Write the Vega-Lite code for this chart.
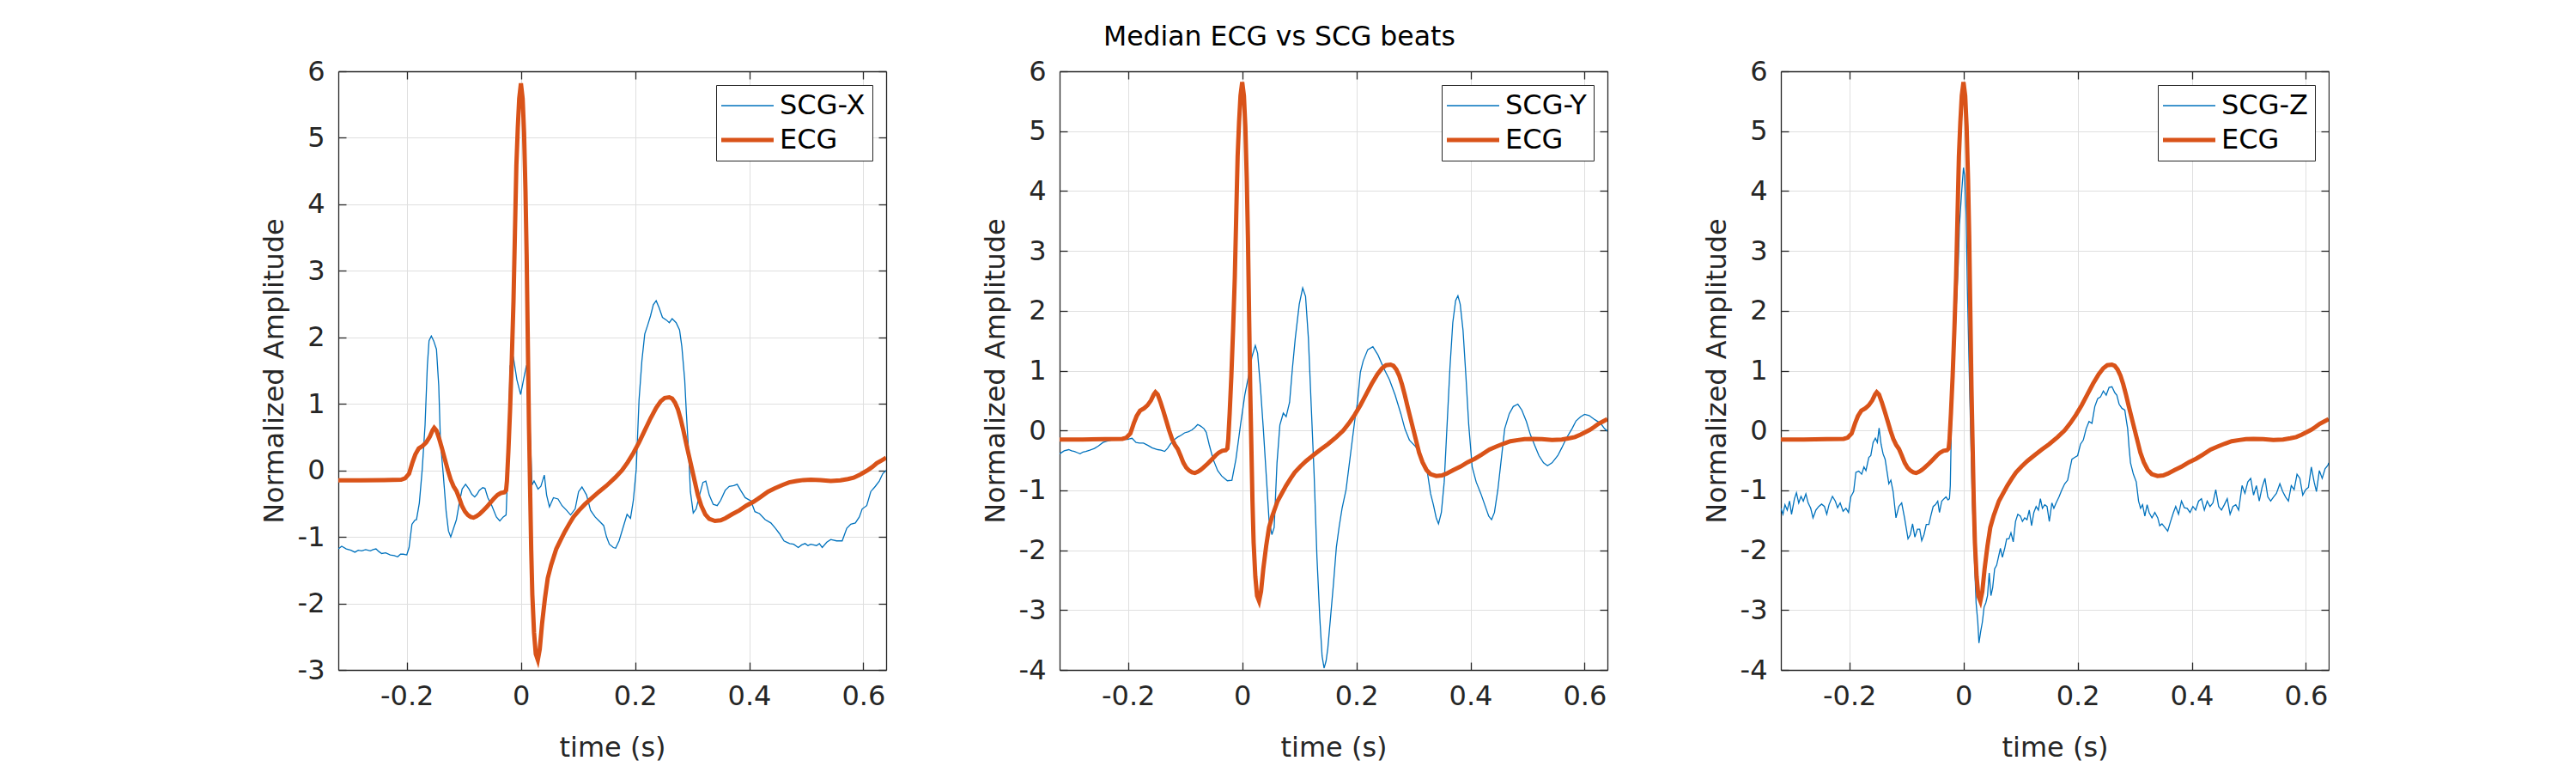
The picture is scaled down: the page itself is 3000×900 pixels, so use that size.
{
  "$schema": "https://vega.github.io/schema/vega-lite/v6.json",
  "background": "white",
  "padding": {"left": 303, "top": 27, "right": 0, "bottom": 0},
  "title": {"text": "Median ECG vs SCG beats", "fontSize": 31.5, "font": "DejaVu Sans", "fontWeight": "normal", "color": "black", "anchor": "middle", "offset": 8, "dx": -18},
  "spacing": 110,
  "resolve": {"scale": {"color": "independent", "strokeWidth": "independent", "x": "independent", "y": "independent"}},
  "config": {
    "view": {"stroke": null},
    "font": "DejaVu Sans",
    "axis": {"labelFont": "DejaVu Sans", "labelFontSize": 32, "labelColor": "#262626", "titleFont": "DejaVu Sans", "titleFontSize": 32, "titleColor": "#262626", "titleFontWeight": "normal", "domainColor": "#262626", "domainWidth": 1.3, "tickColor": "#262626", "tickWidth": 1.3, "gridColor": "#dfdfdf", "gridWidth": 1, "labelExpr": "replace(datum.label, '−', '-')"},
    "legend": {"orient": "top-right", "offset": 16, "strokeColor": "#262626", "fillColor": "white", "padding": 8, "labelFont": "DejaVu Sans", "labelFontSize": 32, "labelColor": "black", "symbolType": "M-1.8,0H4.3", "symbolSize": 400, "labelOffset": 34, "rowPadding": 8}
  },
  "datasets": {
    "ecg": [
      {"t":-0.32,"v":-0.15,"s":"ECG"},{"t":-0.28,"v":-0.15,"s":"ECG"},{"t":-0.24,"v":-0.145,"s":"ECG"},{"t":-0.21,"v":-0.14,"s":"ECG"},{"t":-0.203,"v":-0.12,"s":"ECG"},{"t":-0.196,"v":-0.05,"s":"ECG"},{"t":-0.19,"v":0.12,"s":"ECG"},{"t":-0.185,"v":0.24,"s":"ECG"},{"t":-0.179,"v":0.33,"s":"ECG"},{"t":-0.172,"v":0.37,"s":"ECG"},{"t":-0.166,"v":0.42,"s":"ECG"},{"t":-0.16,"v":0.5,"s":"ECG"},{"t":-0.155,"v":0.6,"s":"ECG"},{"t":-0.152,"v":0.64,"s":"ECG"},{"t":-0.148,"v":0.6,"s":"ECG"},{"t":-0.143,"v":0.47,"s":"ECG"},{"t":-0.138,"v":0.32,"s":"ECG"},{"t":-0.133,"v":0.16,"s":"ECG"},{"t":-0.128,"v":0.0,"s":"ECG"},{"t":-0.123,"v":-0.14,"s":"ECG"},{"t":-0.118,"v":-0.24,"s":"ECG"},{"t":-0.113,"v":-0.31,"s":"ECG"},{"t":-0.108,"v":-0.42,"s":"ECG"},{"t":-0.103,"v":-0.54,"s":"ECG"},{"t":-0.098,"v":-0.62,"s":"ECG"},{"t":-0.093,"v":-0.67,"s":"ECG"},{"t":-0.088,"v":-0.7,"s":"ECG"},{"t":-0.083,"v":-0.71,"s":"ECG"},{"t":-0.078,"v":-0.69,"s":"ECG"},{"t":-0.073,"v":-0.66,"s":"ECG"},{"t":-0.068,"v":-0.62,"s":"ECG"},{"t":-0.06,"v":-0.55,"s":"ECG"},{"t":-0.053,"v":-0.48,"s":"ECG"},{"t":-0.047,"v":-0.42,"s":"ECG"},{"t":-0.041,"v":-0.37,"s":"ECG"},{"t":-0.035,"v":-0.34,"s":"ECG"},{"t":-0.029,"v":-0.33,"s":"ECG"},{"t":-0.026,"v":-0.3,"s":"ECG"},{"t":-0.0245,"v":-0.16,"s":"ECG"},{"t":-0.022,"v":0.28,"s":"ECG"},{"t":-0.019,"v":0.91,"s":"ECG"},{"t":-0.016,"v":1.67,"s":"ECG"},{"t":-0.013,"v":2.55,"s":"ECG"},{"t":-0.0105,"v":3.57,"s":"ECG"},{"t":-0.008,"v":4.58,"s":"ECG"},{"t":-0.0055,"v":5.15,"s":"ECG"},{"t":-0.003,"v":5.59,"s":"ECG"},{"t":0.0,"v":5.82,"s":"ECG"},{"t":0.003,"v":5.59,"s":"ECG"},{"t":0.0055,"v":5.08,"s":"ECG"},{"t":0.008,"v":4.2,"s":"ECG"},{"t":0.01,"v":3.25,"s":"ECG"},{"t":0.012,"v":1.98,"s":"ECG"},{"t":0.014,"v":0.72,"s":"ECG"},{"t":0.016,"v":-0.23,"s":"ECG"},{"t":0.018,"v":-1.18,"s":"ECG"},{"t":0.02,"v":-1.87,"s":"ECG"},{"t":0.023,"v":-2.44,"s":"ECG"},{"t":0.026,"v":-2.76,"s":"ECG"},{"t":0.0296,"v":-2.85,"s":"ECG"},{"t":0.033,"v":-2.69,"s":"ECG"},{"t":0.037,"v":-2.31,"s":"ECG"},{"t":0.042,"v":-1.93,"s":"ECG"},{"t":0.047,"v":-1.62,"s":"ECG"},{"t":0.053,"v":-1.42,"s":"ECG"},{"t":0.062,"v":-1.18,"s":"ECG"},{"t":0.07,"v":-1.04,"s":"ECG"},{"t":0.077,"v":-0.92,"s":"ECG"},{"t":0.085,"v":-0.8,"s":"ECG"},{"t":0.092,"v":-0.7,"s":"ECG"},{"t":0.102,"v":-0.6,"s":"ECG"},{"t":0.112,"v":-0.51,"s":"ECG"},{"t":0.125,"v":-0.41,"s":"ECG"},{"t":0.137,"v":-0.32,"s":"ECG"},{"t":0.15,"v":-0.23,"s":"ECG"},{"t":0.165,"v":-0.11,"s":"ECG"},{"t":0.177,"v":0.0,"s":"ECG"},{"t":0.187,"v":0.12,"s":"ECG"},{"t":0.197,"v":0.26,"s":"ECG"},{"t":0.207,"v":0.42,"s":"ECG"},{"t":0.217,"v":0.6,"s":"ECG"},{"t":0.227,"v":0.78,"s":"ECG"},{"t":0.237,"v":0.94,"s":"ECG"},{"t":0.245,"v":1.04,"s":"ECG"},{"t":0.252,"v":1.09,"s":"ECG"},{"t":0.26,"v":1.1,"s":"ECG"},{"t":0.265,"v":1.08,"s":"ECG"},{"t":0.27,"v":1.02,"s":"ECG"},{"t":0.275,"v":0.92,"s":"ECG"},{"t":0.28,"v":0.77,"s":"ECG"},{"t":0.285,"v":0.59,"s":"ECG"},{"t":0.29,"v":0.39,"s":"ECG"},{"t":0.295,"v":0.2,"s":"ECG"},{"t":0.3,"v":0.01,"s":"ECG"},{"t":0.305,"v":-0.18,"s":"ECG"},{"t":0.31,"v":-0.37,"s":"ECG"},{"t":0.316,"v":-0.53,"s":"ECG"},{"t":0.323,"v":-0.66,"s":"ECG"},{"t":0.33,"v":-0.73,"s":"ECG"},{"t":0.34,"v":-0.76,"s":"ECG"},{"t":0.35,"v":-0.75,"s":"ECG"},{"t":0.358,"v":-0.72,"s":"ECG"},{"t":0.37,"v":-0.66,"s":"ECG"},{"t":0.383,"v":-0.6,"s":"ECG"},{"t":0.395,"v":-0.53,"s":"ECG"},{"t":0.408,"v":-0.47,"s":"ECG"},{"t":0.42,"v":-0.4,"s":"ECG"},{"t":0.433,"v":-0.32,"s":"ECG"},{"t":0.445,"v":-0.27,"s":"ECG"},{"t":0.458,"v":-0.22,"s":"ECG"},{"t":0.47,"v":-0.18,"s":"ECG"},{"t":0.483,"v":-0.16,"s":"ECG"},{"t":0.495,"v":-0.145,"s":"ECG"},{"t":0.508,"v":-0.14,"s":"ECG"},{"t":0.525,"v":-0.145,"s":"ECG"},{"t":0.543,"v":-0.16,"s":"ECG"},{"t":0.56,"v":-0.15,"s":"ECG"},{"t":0.573,"v":-0.13,"s":"ECG"},{"t":0.583,"v":-0.11,"s":"ECG"},{"t":0.593,"v":-0.07,"s":"ECG"},{"t":0.601,"v":-0.03,"s":"ECG"},{"t":0.609,"v":0.01,"s":"ECG"},{"t":0.617,"v":0.06,"s":"ECG"},{"t":0.624,"v":0.11,"s":"ECG"},{"t":0.632,"v":0.15,"s":"ECG"},{"t":0.64,"v":0.19,"s":"ECG"}
    ],
    "scgx": [
      {"t":-0.32,"v":-1.18,"s":"SCG-X"},{"t":-0.314,"v":-1.14,"s":"SCG-X"},{"t":-0.306,"v":-1.18,"s":"SCG-X"},{"t":-0.298,"v":-1.2,"s":"SCG-X"},{"t":-0.291,"v":-1.23,"s":"SCG-X"},{"t":-0.285,"v":-1.2,"s":"SCG-X"},{"t":-0.279,"v":-1.21,"s":"SCG-X"},{"t":-0.272,"v":-1.19,"s":"SCG-X"},{"t":-0.264,"v":-1.21,"s":"SCG-X"},{"t":-0.259,"v":-1.19,"s":"SCG-X"},{"t":-0.254,"v":-1.18,"s":"SCG-X"},{"t":-0.249,"v":-1.22,"s":"SCG-X"},{"t":-0.244,"v":-1.25,"s":"SCG-X"},{"t":-0.237,"v":-1.24,"s":"SCG-X"},{"t":-0.229,"v":-1.27,"s":"SCG-X"},{"t":-0.222,"v":-1.28,"s":"SCG-X"},{"t":-0.216,"v":-1.3,"s":"SCG-X"},{"t":-0.211,"v":-1.26,"s":"SCG-X"},{"t":-0.206,"v":-1.26,"s":"SCG-X"},{"t":-0.2,"v":-1.27,"s":"SCG-X"},{"t":-0.196,"v":-1.16,"s":"SCG-X"},{"t":-0.191,"v":-0.81,"s":"SCG-X"},{"t":-0.186,"v":-0.75,"s":"SCG-X"},{"t":-0.183,"v":-0.74,"s":"SCG-X"},{"t":-0.178,"v":-0.49,"s":"SCG-X"},{"t":-0.173,"v":0.01,"s":"SCG-X"},{"t":-0.168,"v":0.68,"s":"SCG-X"},{"t":-0.164,"v":1.57,"s":"SCG-X"},{"t":-0.161,"v":1.95,"s":"SCG-X"},{"t":-0.157,"v":2.02,"s":"SCG-X"},{"t":-0.153,"v":1.95,"s":"SCG-X"},{"t":-0.148,"v":1.82,"s":"SCG-X"},{"t":-0.144,"v":1.27,"s":"SCG-X"},{"t":-0.141,"v":0.43,"s":"SCG-X"},{"t":-0.136,"v":-0.07,"s":"SCG-X"},{"t":-0.131,"v":-0.62,"s":"SCG-X"},{"t":-0.127,"v":-0.91,"s":"SCG-X"},{"t":-0.123,"v":-1.0,"s":"SCG-X"},{"t":-0.118,"v":-0.87,"s":"SCG-X"},{"t":-0.113,"v":-0.74,"s":"SCG-X"},{"t":-0.108,"v":-0.49,"s":"SCG-X"},{"t":-0.103,"v":-0.28,"s":"SCG-X"},{"t":-0.097,"v":-0.21,"s":"SCG-X"},{"t":-0.091,"v":-0.28,"s":"SCG-X"},{"t":-0.086,"v":-0.36,"s":"SCG-X"},{"t":-0.081,"v":-0.4,"s":"SCG-X"},{"t":-0.077,"v":-0.36,"s":"SCG-X"},{"t":-0.073,"v":-0.3,"s":"SCG-X"},{"t":-0.067,"v":-0.26,"s":"SCG-X"},{"t":-0.063,"v":-0.27,"s":"SCG-X"},{"t":-0.058,"v":-0.41,"s":"SCG-X"},{"t":-0.051,"v":-0.53,"s":"SCG-X"},{"t":-0.043,"v":-0.7,"s":"SCG-X"},{"t":-0.037,"v":-0.76,"s":"SCG-X"},{"t":-0.031,"v":-0.7,"s":"SCG-X"},{"t":-0.026,"v":-0.67,"s":"SCG-X"},{"t":-0.023,"v":0.01,"s":"SCG-X"},{"t":-0.019,"v":1.57,"s":"SCG-X"},{"t":-0.013,"v":1.69,"s":"SCG-X"},{"t":-0.007,"v":1.36,"s":"SCG-X"},{"t":-0.0005,"v":1.14,"s":"SCG-X"},{"t":0.0045,"v":1.36,"s":"SCG-X"},{"t":0.0095,"v":1.57,"s":"SCG-X"},{"t":0.012,"v":1.6,"s":"SCG-X"},{"t":0.016,"v":0.6,"s":"SCG-X"},{"t":0.0195,"v":-0.22,"s":"SCG-X"},{"t":0.023,"v":-0.16,"s":"SCG-X"},{"t":0.03,"v":-0.28,"s":"SCG-X"},{"t":0.035,"v":-0.24,"s":"SCG-X"},{"t":0.041,"v":-0.07,"s":"SCG-X"},{"t":0.045,"v":-0.37,"s":"SCG-X"},{"t":0.05,"v":-0.55,"s":"SCG-X"},{"t":0.057,"v":-0.41,"s":"SCG-X"},{"t":0.065,"v":-0.43,"s":"SCG-X"},{"t":0.072,"v":-0.53,"s":"SCG-X"},{"t":0.08,"v":-0.6,"s":"SCG-X"},{"t":0.087,"v":-0.67,"s":"SCG-X"},{"t":0.095,"v":-0.58,"s":"SCG-X"},{"t":0.101,"v":-0.32,"s":"SCG-X"},{"t":0.107,"v":-0.25,"s":"SCG-X"},{"t":0.115,"v":-0.37,"s":"SCG-X"},{"t":0.122,"v":-0.6,"s":"SCG-X"},{"t":0.13,"v":-0.7,"s":"SCG-X"},{"t":0.137,"v":-0.76,"s":"SCG-X"},{"t":0.145,"v":-0.83,"s":"SCG-X"},{"t":0.15,"v":-1.0,"s":"SCG-X"},{"t":0.155,"v":-1.11,"s":"SCG-X"},{"t":0.162,"v":-1.16,"s":"SCG-X"},{"t":0.166,"v":-1.17,"s":"SCG-X"},{"t":0.172,"v":-1.06,"s":"SCG-X"},{"t":0.18,"v":-0.83,"s":"SCG-X"},{"t":0.186,"v":-0.66,"s":"SCG-X"},{"t":0.192,"v":-0.72,"s":"SCG-X"},{"t":0.197,"v":-0.45,"s":"SCG-X"},{"t":0.202,"v":0.01,"s":"SCG-X"},{"t":0.207,"v":1.06,"s":"SCG-X"},{"t":0.212,"v":1.65,"s":"SCG-X"},{"t":0.217,"v":2.05,"s":"SCG-X"},{"t":0.222,"v":2.18,"s":"SCG-X"},{"t":0.227,"v":2.32,"s":"SCG-X"},{"t":0.232,"v":2.49,"s":"SCG-X"},{"t":0.237,"v":2.55,"s":"SCG-X"},{"t":0.242,"v":2.45,"s":"SCG-X"},{"t":0.248,"v":2.3,"s":"SCG-X"},{"t":0.255,"v":2.26,"s":"SCG-X"},{"t":0.26,"v":2.22,"s":"SCG-X"},{"t":0.265,"v":2.28,"s":"SCG-X"},{"t":0.272,"v":2.22,"s":"SCG-X"},{"t":0.278,"v":2.11,"s":"SCG-X"},{"t":0.282,"v":1.86,"s":"SCG-X"},{"t":0.287,"v":1.36,"s":"SCG-X"},{"t":0.29,"v":0.85,"s":"SCG-X"},{"t":0.294,"v":0.26,"s":"SCG-X"},{"t":0.297,"v":-0.32,"s":"SCG-X"},{"t":0.302,"v":-0.64,"s":"SCG-X"},{"t":0.307,"v":-0.58,"s":"SCG-X"},{"t":0.313,"v":-0.37,"s":"SCG-X"},{"t":0.319,"v":-0.18,"s":"SCG-X"},{"t":0.324,"v":-0.16,"s":"SCG-X"},{"t":0.33,"v":-0.37,"s":"SCG-X"},{"t":0.337,"v":-0.51,"s":"SCG-X"},{"t":0.344,"v":-0.53,"s":"SCG-X"},{"t":0.35,"v":-0.45,"s":"SCG-X"},{"t":0.358,"v":-0.3,"s":"SCG-X"},{"t":0.365,"v":-0.24,"s":"SCG-X"},{"t":0.373,"v":-0.23,"s":"SCG-X"},{"t":0.379,"v":-0.21,"s":"SCG-X"},{"t":0.385,"v":-0.3,"s":"SCG-X"},{"t":0.393,"v":-0.41,"s":"SCG-X"},{"t":0.403,"v":-0.46,"s":"SCG-X"},{"t":0.41,"v":-0.62,"s":"SCG-X"},{"t":0.418,"v":-0.65,"s":"SCG-X"},{"t":0.428,"v":-0.74,"s":"SCG-X"},{"t":0.438,"v":-0.79,"s":"SCG-X"},{"t":0.446,"v":-0.87,"s":"SCG-X"},{"t":0.453,"v":-0.95,"s":"SCG-X"},{"t":0.461,"v":-1.06,"s":"SCG-X"},{"t":0.466,"v":-1.08,"s":"SCG-X"},{"t":0.471,"v":-1.1,"s":"SCG-X"},{"t":0.478,"v":-1.11,"s":"SCG-X"},{"t":0.486,"v":-1.16,"s":"SCG-X"},{"t":0.492,"v":-1.12,"s":"SCG-X"},{"t":0.498,"v":-1.1,"s":"SCG-X"},{"t":0.503,"v":-1.13,"s":"SCG-X"},{"t":0.508,"v":-1.11,"s":"SCG-X"},{"t":0.518,"v":-1.13,"s":"SCG-X"},{"t":0.523,"v":-1.1,"s":"SCG-X"},{"t":0.528,"v":-1.16,"s":"SCG-X"},{"t":0.536,"v":-1.08,"s":"SCG-X"},{"t":0.543,"v":-1.04,"s":"SCG-X"},{"t":0.553,"v":-1.06,"s":"SCG-X"},{"t":0.563,"v":-1.06,"s":"SCG-X"},{"t":0.571,"v":-0.87,"s":"SCG-X"},{"t":0.578,"v":-0.81,"s":"SCG-X"},{"t":0.586,"v":-0.79,"s":"SCG-X"},{"t":0.593,"v":-0.7,"s":"SCG-X"},{"t":0.598,"v":-0.58,"s":"SCG-X"},{"t":0.606,"v":-0.53,"s":"SCG-X"},{"t":0.613,"v":-0.32,"s":"SCG-X"},{"t":0.621,"v":-0.24,"s":"SCG-X"},{"t":0.628,"v":-0.16,"s":"SCG-X"},{"t":0.634,"v":-0.05,"s":"SCG-X"},{"t":0.64,"v":0.0,"s":"SCG-X"}
    ],
    "scgy": [
      {"t":-0.32,"v":-0.39,"s":"SCG-Y"},{"t":-0.312,"v":-0.34,"s":"SCG-Y"},{"t":-0.304,"v":-0.32,"s":"SCG-Y"},{"t":-0.299,"v":-0.34,"s":"SCG-Y"},{"t":-0.294,"v":-0.35,"s":"SCG-Y"},{"t":-0.289,"v":-0.37,"s":"SCG-Y"},{"t":-0.284,"v":-0.39,"s":"SCG-Y"},{"t":-0.279,"v":-0.36,"s":"SCG-Y"},{"t":-0.274,"v":-0.35,"s":"SCG-Y"},{"t":-0.267,"v":-0.33,"s":"SCG-Y"},{"t":-0.259,"v":-0.3,"s":"SCG-Y"},{"t":-0.252,"v":-0.26,"s":"SCG-Y"},{"t":-0.244,"v":-0.2,"s":"SCG-Y"},{"t":-0.237,"v":-0.18,"s":"SCG-Y"},{"t":-0.229,"v":-0.16,"s":"SCG-Y"},{"t":-0.222,"v":-0.16,"s":"SCG-Y"},{"t":-0.214,"v":-0.15,"s":"SCG-Y"},{"t":-0.207,"v":-0.15,"s":"SCG-Y"},{"t":-0.201,"v":-0.15,"s":"SCG-Y"},{"t":-0.197,"v":-0.14,"s":"SCG-Y"},{"t":-0.193,"v":-0.13,"s":"SCG-Y"},{"t":-0.186,"v":-0.2,"s":"SCG-Y"},{"t":-0.18,"v":-0.21,"s":"SCG-Y"},{"t":-0.173,"v":-0.21,"s":"SCG-Y"},{"t":-0.165,"v":-0.25,"s":"SCG-Y"},{"t":-0.158,"v":-0.29,"s":"SCG-Y"},{"t":-0.148,"v":-0.32,"s":"SCG-Y"},{"t":-0.142,"v":-0.33,"s":"SCG-Y"},{"t":-0.136,"v":-0.35,"s":"SCG-Y"},{"t":-0.131,"v":-0.3,"s":"SCG-Y"},{"t":-0.126,"v":-0.23,"s":"SCG-Y"},{"t":-0.12,"v":-0.16,"s":"SCG-Y"},{"t":-0.113,"v":-0.11,"s":"SCG-Y"},{"t":-0.107,"v":-0.08,"s":"SCG-Y"},{"t":-0.101,"v":-0.04,"s":"SCG-Y"},{"t":-0.094,"v":-0.02,"s":"SCG-Y"},{"t":-0.088,"v":0.01,"s":"SCG-Y"},{"t":-0.083,"v":0.05,"s":"SCG-Y"},{"t":-0.078,"v":0.1,"s":"SCG-Y"},{"t":-0.074,"v":0.08,"s":"SCG-Y"},{"t":-0.071,"v":0.06,"s":"SCG-Y"},{"t":-0.067,"v":0.03,"s":"SCG-Y"},{"t":-0.063,"v":-0.03,"s":"SCG-Y"},{"t":-0.058,"v":-0.23,"s":"SCG-Y"},{"t":-0.051,"v":-0.48,"s":"SCG-Y"},{"t":-0.043,"v":-0.67,"s":"SCG-Y"},{"t":-0.036,"v":-0.76,"s":"SCG-Y"},{"t":-0.031,"v":-0.8,"s":"SCG-Y"},{"t":-0.026,"v":-0.84,"s":"SCG-Y"},{"t":-0.018,"v":-0.83,"s":"SCG-Y"},{"t":-0.011,"v":-0.48,"s":"SCG-Y"},{"t":-0.003,"v":0.09,"s":"SCG-Y"},{"t":0.0045,"v":0.59,"s":"SCG-Y"},{"t":0.012,"v":0.95,"s":"SCG-Y"},{"t":0.017,"v":1.23,"s":"SCG-Y"},{"t":0.023,"v":1.42,"s":"SCG-Y"},{"t":0.027,"v":1.29,"s":"SCG-Y"},{"t":0.032,"v":0.72,"s":"SCG-Y"},{"t":0.037,"v":0.03,"s":"SCG-Y"},{"t":0.042,"v":-0.73,"s":"SCG-Y"},{"t":0.047,"v":-1.49,"s":"SCG-Y"},{"t":0.052,"v":-1.74,"s":"SCG-Y"},{"t":0.056,"v":-1.62,"s":"SCG-Y"},{"t":0.061,"v":-0.54,"s":"SCG-Y"},{"t":0.066,"v":0.09,"s":"SCG-Y"},{"t":0.072,"v":0.29,"s":"SCG-Y"},{"t":0.077,"v":0.23,"s":"SCG-Y"},{"t":0.083,"v":0.47,"s":"SCG-Y"},{"t":0.088,"v":1.04,"s":"SCG-Y"},{"t":0.093,"v":1.54,"s":"SCG-Y"},{"t":0.1,"v":2.11,"s":"SCG-Y"},{"t":0.106,"v":2.38,"s":"SCG-Y"},{"t":0.111,"v":2.24,"s":"SCG-Y"},{"t":0.116,"v":1.54,"s":"SCG-Y"},{"t":0.121,"v":0.4,"s":"SCG-Y"},{"t":0.126,"v":-0.73,"s":"SCG-Y"},{"t":0.131,"v":-2.12,"s":"SCG-Y"},{"t":0.136,"v":-3.14,"s":"SCG-Y"},{"t":0.14,"v":-3.77,"s":"SCG-Y"},{"t":0.1435,"v":-3.97,"s":"SCG-Y"},{"t":0.147,"v":-3.85,"s":"SCG-Y"},{"t":0.15,"v":-3.64,"s":"SCG-Y"},{"t":0.155,"v":-3.1,"s":"SCG-Y"},{"t":0.16,"v":-2.55,"s":"SCG-Y"},{"t":0.165,"v":-1.95,"s":"SCG-Y"},{"t":0.17,"v":-1.6,"s":"SCG-Y"},{"t":0.175,"v":-1.3,"s":"SCG-Y"},{"t":0.182,"v":-0.99,"s":"SCG-Y"},{"t":0.187,"v":-0.61,"s":"SCG-Y"},{"t":0.192,"v":-0.23,"s":"SCG-Y"},{"t":0.197,"v":0.15,"s":"SCG-Y"},{"t":0.202,"v":0.47,"s":"SCG-Y"},{"t":0.207,"v":0.97,"s":"SCG-Y"},{"t":0.212,"v":1.16,"s":"SCG-Y"},{"t":0.22,"v":1.35,"s":"SCG-Y"},{"t":0.229,"v":1.4,"s":"SCG-Y"},{"t":0.238,"v":1.26,"s":"SCG-Y"},{"t":0.248,"v":1.04,"s":"SCG-Y"},{"t":0.258,"v":0.85,"s":"SCG-Y"},{"t":0.268,"v":0.59,"s":"SCG-Y"},{"t":0.278,"v":0.28,"s":"SCG-Y"},{"t":0.285,"v":0.03,"s":"SCG-Y"},{"t":0.293,"v":-0.16,"s":"SCG-Y"},{"t":0.303,"v":-0.26,"s":"SCG-Y"},{"t":0.31,"v":-0.35,"s":"SCG-Y"},{"t":0.318,"v":-0.54,"s":"SCG-Y"},{"t":0.325,"v":-0.73,"s":"SCG-Y"},{"t":0.33,"v":-1.05,"s":"SCG-Y"},{"t":0.335,"v":-1.24,"s":"SCG-Y"},{"t":0.34,"v":-1.46,"s":"SCG-Y"},{"t":0.344,"v":-1.56,"s":"SCG-Y"},{"t":0.349,"v":-1.37,"s":"SCG-Y"},{"t":0.354,"v":-0.86,"s":"SCG-Y"},{"t":0.359,"v":0.09,"s":"SCG-Y"},{"t":0.364,"v":1.04,"s":"SCG-Y"},{"t":0.369,"v":1.8,"s":"SCG-Y"},{"t":0.374,"v":2.17,"s":"SCG-Y"},{"t":0.378,"v":2.25,"s":"SCG-Y"},{"t":0.382,"v":2.11,"s":"SCG-Y"},{"t":0.387,"v":1.67,"s":"SCG-Y"},{"t":0.392,"v":0.91,"s":"SCG-Y"},{"t":0.397,"v":0.09,"s":"SCG-Y"},{"t":0.403,"v":-0.61,"s":"SCG-Y"},{"t":0.41,"v":-0.86,"s":"SCG-Y"},{"t":0.418,"v":-1.05,"s":"SCG-Y"},{"t":0.425,"v":-1.24,"s":"SCG-Y"},{"t":0.432,"v":-1.43,"s":"SCG-Y"},{"t":0.437,"v":-1.49,"s":"SCG-Y"},{"t":0.442,"v":-1.37,"s":"SCG-Y"},{"t":0.448,"v":-0.99,"s":"SCG-Y"},{"t":0.454,"v":-0.48,"s":"SCG-Y"},{"t":0.46,"v":0.03,"s":"SCG-Y"},{"t":0.468,"v":0.28,"s":"SCG-Y"},{"t":0.475,"v":0.4,"s":"SCG-Y"},{"t":0.483,"v":0.44,"s":"SCG-Y"},{"t":0.49,"v":0.34,"s":"SCG-Y"},{"t":0.498,"v":0.15,"s":"SCG-Y"},{"t":0.505,"v":-0.07,"s":"SCG-Y"},{"t":0.513,"v":-0.26,"s":"SCG-Y"},{"t":0.52,"v":-0.42,"s":"SCG-Y"},{"t":0.528,"v":-0.54,"s":"SCG-Y"},{"t":0.535,"v":-0.59,"s":"SCG-Y"},{"t":0.543,"v":-0.54,"s":"SCG-Y"},{"t":0.553,"v":-0.42,"s":"SCG-Y"},{"t":0.56,"v":-0.29,"s":"SCG-Y"},{"t":0.568,"v":-0.13,"s":"SCG-Y"},{"t":0.578,"v":0.03,"s":"SCG-Y"},{"t":0.585,"v":0.16,"s":"SCG-Y"},{"t":0.593,"v":0.23,"s":"SCG-Y"},{"t":0.6,"v":0.27,"s":"SCG-Y"},{"t":0.608,"v":0.25,"s":"SCG-Y"},{"t":0.618,"v":0.18,"s":"SCG-Y"},{"t":0.628,"v":0.12,"s":"SCG-Y"},{"t":0.635,"v":0.03,"s":"SCG-Y"},{"t":0.64,"v":-0.01,"s":"SCG-Y"}
    ],
    "scgz": [
      {"t":-0.32,"v":-1.3,"s":"SCG-Z"},{"t":-0.3163,"v":-1.4,"s":"SCG-Z"},{"t":-0.3128,"v":-1.24,"s":"SCG-Z"},{"t":-0.3088,"v":-1.33,"s":"SCG-Z"},{"t":-0.3048,"v":-1.18,"s":"SCG-Z"},{"t":-0.3013,"v":-1.4,"s":"SCG-Z"},{"t":-0.2962,"v":-1.14,"s":"SCG-Z"},{"t":-0.2927,"v":-1.04,"s":"SCG-Z"},{"t":-0.2887,"v":-1.21,"s":"SCG-Z"},{"t":-0.2847,"v":-1.1,"s":"SCG-Z"},{"t":-0.2807,"v":-1.18,"s":"SCG-Z"},{"t":-0.2762,"v":-1.06,"s":"SCG-Z"},{"t":-0.2722,"v":-1.21,"s":"SCG-Z"},{"t":-0.2677,"v":-1.3,"s":"SCG-Z"},{"t":-0.2637,"v":-1.46,"s":"SCG-Z"},{"t":-0.2586,"v":-1.33,"s":"SCG-Z"},{"t":-0.2536,"v":-1.27,"s":"SCG-Z"},{"t":-0.2486,"v":-1.23,"s":"SCG-Z"},{"t":-0.2436,"v":-1.27,"s":"SCG-Z"},{"t":-0.2396,"v":-1.4,"s":"SCG-Z"},{"t":-0.2356,"v":-1.24,"s":"SCG-Z"},{"t":-0.2296,"v":-1.1,"s":"SCG-Z"},{"t":-0.2246,"v":-1.18,"s":"SCG-Z"},{"t":-0.2206,"v":-1.29,"s":"SCG-Z"},{"t":-0.2161,"v":-1.21,"s":"SCG-Z"},{"t":-0.211,"v":-1.35,"s":"SCG-Z"},{"t":-0.206,"v":-1.3,"s":"SCG-Z"},{"t":-0.2015,"v":-1.37,"s":"SCG-Z"},{"t":-0.1975,"v":-1.11,"s":"SCG-Z"},{"t":-0.1925,"v":-1.02,"s":"SCG-Z"},{"t":-0.1885,"v":-0.7,"s":"SCG-Z"},{"t":-0.1835,"v":-0.68,"s":"SCG-Z"},{"t":-0.1784,"v":-0.73,"s":"SCG-Z"},{"t":-0.1744,"v":-0.61,"s":"SCG-Z"},{"t":-0.1709,"v":-0.67,"s":"SCG-Z"},{"t":-0.1659,"v":-0.45,"s":"SCG-Z"},{"t":-0.1624,"v":-0.42,"s":"SCG-Z"},{"t":-0.1584,"v":-0.2,"s":"SCG-Z"},{"t":-0.1544,"v":-0.13,"s":"SCG-Z"},{"t":-0.1509,"v":-0.2,"s":"SCG-Z"},{"t":-0.1479,"v":0.04,"s":"SCG-Z"},{"t":-0.1444,"v":-0.23,"s":"SCG-Z"},{"t":-0.1409,"v":-0.39,"s":"SCG-Z"},{"t":-0.1373,"v":-0.48,"s":"SCG-Z"},{"t":-0.1333,"v":-0.73,"s":"SCG-Z"},{"t":-0.1308,"v":-0.89,"s":"SCG-Z"},{"t":-0.1273,"v":-0.83,"s":"SCG-Z"},{"t":-0.1233,"v":-1.02,"s":"SCG-Z"},{"t":-0.1183,"v":-1.46,"s":"SCG-Z"},{"t":-0.1133,"v":-1.27,"s":"SCG-Z"},{"t":-0.1083,"v":-1.21,"s":"SCG-Z"},{"t":-0.1033,"v":-1.46,"s":"SCG-Z"},{"t":-0.0972,"v":-1.81,"s":"SCG-Z"},{"t":-0.0932,"v":-1.74,"s":"SCG-Z"},{"t":-0.0892,"v":-1.56,"s":"SCG-Z"},{"t":-0.0852,"v":-1.78,"s":"SCG-Z"},{"t":-0.0807,"v":-1.65,"s":"SCG-Z"},{"t":-0.0767,"v":-1.65,"s":"SCG-Z"},{"t":-0.0732,"v":-1.84,"s":"SCG-Z"},{"t":-0.0692,"v":-1.74,"s":"SCG-Z"},{"t":-0.0652,"v":-1.57,"s":"SCG-Z"},{"t":-0.0607,"v":-1.57,"s":"SCG-Z"},{"t":-0.0566,"v":-1.4,"s":"SCG-Z"},{"t":-0.0531,"v":-1.27,"s":"SCG-Z"},{"t":-0.0491,"v":-1.24,"s":"SCG-Z"},{"t":-0.0451,"v":-1.18,"s":"SCG-Z"},{"t":-0.0421,"v":-1.37,"s":"SCG-Z"},{"t":-0.0381,"v":-1.18,"s":"SCG-Z"},{"t":-0.0341,"v":-1.14,"s":"SCG-Z"},{"t":-0.0306,"v":-1.11,"s":"SCG-Z"},{"t":-0.0271,"v":-1.16,"s":"SCG-Z"},{"t":-0.0246,"v":-1.14,"s":"SCG-Z"},{"t":-0.0231,"v":-0.92,"s":"SCG-Z"},{"t":-0.0206,"v":0.4,"s":"SCG-Z"},{"t":-0.017,"v":1.04,"s":"SCG-Z"},{"t":-0.013,"v":2.0,"s":"SCG-Z"},{"t":-0.009,"v":2.81,"s":"SCG-Z"},{"t":-0.007,"v":3.44,"s":"SCG-Z"},{"t":-0.003,"v":4.01,"s":"SCG-Z"},{"t":0.0,"v":4.39,"s":"SCG-Z"},{"t":0.002,"v":4.26,"s":"SCG-Z"},{"t":0.0045,"v":3.63,"s":"SCG-Z"},{"t":0.007,"v":2.3,"s":"SCG-Z"},{"t":0.011,"v":0.6,"s":"SCG-Z"},{"t":0.015,"v":-1.0,"s":"SCG-Z"},{"t":0.019,"v":-2.12,"s":"SCG-Z"},{"t":0.0221,"v":-2.88,"s":"SCG-Z"},{"t":0.0251,"v":-3.2,"s":"SCG-Z"},{"t":0.0271,"v":-3.55,"s":"SCG-Z"},{"t":0.0301,"v":-3.36,"s":"SCG-Z"},{"t":0.0331,"v":-3.2,"s":"SCG-Z"},{"t":0.0361,"v":-2.95,"s":"SCG-Z"},{"t":0.0391,"v":-2.88,"s":"SCG-Z"},{"t":0.0421,"v":-2.76,"s":"SCG-Z"},{"t":0.0451,"v":-2.38,"s":"SCG-Z"},{"t":0.0481,"v":-2.76,"s":"SCG-Z"},{"t":0.0511,"v":-2.63,"s":"SCG-Z"},{"t":0.0546,"v":-2.31,"s":"SCG-Z"},{"t":0.0581,"v":-2.25,"s":"SCG-Z"},{"t":0.0612,"v":-2.12,"s":"SCG-Z"},{"t":0.0647,"v":-1.97,"s":"SCG-Z"},{"t":0.0682,"v":-2.12,"s":"SCG-Z"},{"t":0.0722,"v":-1.97,"s":"SCG-Z"},{"t":0.0757,"v":-1.81,"s":"SCG-Z"},{"t":0.0797,"v":-1.81,"s":"SCG-Z"},{"t":0.0832,"v":-1.71,"s":"SCG-Z"},{"t":0.0872,"v":-1.86,"s":"SCG-Z"},{"t":0.0912,"v":-1.52,"s":"SCG-Z"},{"t":0.0952,"v":-1.4,"s":"SCG-Z"},{"t":0.0997,"v":-1.43,"s":"SCG-Z"},{"t":0.1033,"v":-1.52,"s":"SCG-Z"},{"t":0.1073,"v":-1.46,"s":"SCG-Z"},{"t":0.1113,"v":-1.49,"s":"SCG-Z"},{"t":0.1153,"v":-1.33,"s":"SCG-Z"},{"t":0.1193,"v":-1.59,"s":"SCG-Z"},{"t":0.1233,"v":-1.37,"s":"SCG-Z"},{"t":0.1273,"v":-1.27,"s":"SCG-Z"},{"t":0.1313,"v":-1.33,"s":"SCG-Z"},{"t":0.1348,"v":-1.14,"s":"SCG-Z"},{"t":0.1383,"v":-1.3,"s":"SCG-Z"},{"t":0.1424,"v":-1.24,"s":"SCG-Z"},{"t":0.1464,"v":-1.27,"s":"SCG-Z"},{"t":0.1504,"v":-1.52,"s":"SCG-Z"},{"t":0.1549,"v":-1.21,"s":"SCG-Z"},{"t":0.1584,"v":-1.3,"s":"SCG-Z"},{"t":0.1624,"v":-1.21,"s":"SCG-Z"},{"t":0.1674,"v":-1.11,"s":"SCG-Z"},{"t":0.1724,"v":-0.99,"s":"SCG-Z"},{"t":0.1774,"v":-0.89,"s":"SCG-Z"},{"t":0.1825,"v":-0.83,"s":"SCG-Z"},{"t":0.1865,"v":-0.64,"s":"SCG-Z"},{"t":0.19,"v":-0.48,"s":"SCG-Z"},{"t":0.195,"v":-0.45,"s":"SCG-Z"},{"t":0.2,"v":-0.42,"s":"SCG-Z"},{"t":0.205,"v":-0.23,"s":"SCG-Z"},{"t":0.21,"v":-0.16,"s":"SCG-Z"},{"t":0.215,"v":0.03,"s":"SCG-Z"},{"t":0.22,"v":0.15,"s":"SCG-Z"},{"t":0.2251,"v":0.12,"s":"SCG-Z"},{"t":0.2301,"v":0.4,"s":"SCG-Z"},{"t":0.2351,"v":0.53,"s":"SCG-Z"},{"t":0.2401,"v":0.56,"s":"SCG-Z"},{"t":0.2451,"v":0.66,"s":"SCG-Z"},{"t":0.2501,"v":0.59,"s":"SCG-Z"},{"t":0.2551,"v":0.72,"s":"SCG-Z"},{"t":0.2602,"v":0.73,"s":"SCG-Z"},{"t":0.2652,"v":0.63,"s":"SCG-Z"},{"t":0.2687,"v":0.59,"s":"SCG-Z"},{"t":0.2727,"v":0.44,"s":"SCG-Z"},{"t":0.2777,"v":0.37,"s":"SCG-Z"},{"t":0.2827,"v":0.34,"s":"SCG-Z"},{"t":0.2852,"v":0.18,"s":"SCG-Z"},{"t":0.2877,"v":0.03,"s":"SCG-Z"},{"t":0.2902,"v":-0.29,"s":"SCG-Z"},{"t":0.2927,"v":-0.54,"s":"SCG-Z"},{"t":0.2977,"v":-0.73,"s":"SCG-Z"},{"t":0.3028,"v":-0.86,"s":"SCG-Z"},{"t":0.3068,"v":-1.18,"s":"SCG-Z"},{"t":0.3103,"v":-1.3,"s":"SCG-Z"},{"t":0.3138,"v":-1.24,"s":"SCG-Z"},{"t":0.3178,"v":-1.43,"s":"SCG-Z"},{"t":0.3218,"v":-1.24,"s":"SCG-Z"},{"t":0.3253,"v":-1.37,"s":"SCG-Z"},{"t":0.3303,"v":-1.46,"s":"SCG-Z"},{"t":0.3353,"v":-1.37,"s":"SCG-Z"},{"t":0.3404,"v":-1.46,"s":"SCG-Z"},{"t":0.3439,"v":-1.59,"s":"SCG-Z"},{"t":0.3479,"v":-1.56,"s":"SCG-Z"},{"t":0.3529,"v":-1.62,"s":"SCG-Z"},{"t":0.3579,"v":-1.68,"s":"SCG-Z"},{"t":0.3629,"v":-1.52,"s":"SCG-Z"},{"t":0.3679,"v":-1.37,"s":"SCG-Z"},{"t":0.3719,"v":-1.27,"s":"SCG-Z"},{"t":0.3769,"v":-1.4,"s":"SCG-Z"},{"t":0.382,"v":-1.18,"s":"SCG-Z"},{"t":0.387,"v":-1.29,"s":"SCG-Z"},{"t":0.392,"v":-1.3,"s":"SCG-Z"},{"t":0.397,"v":-1.37,"s":"SCG-Z"},{"t":0.402,"v":-1.27,"s":"SCG-Z"},{"t":0.407,"v":-1.33,"s":"SCG-Z"},{"t":0.412,"v":-1.18,"s":"SCG-Z"},{"t":0.417,"v":-1.14,"s":"SCG-Z"},{"t":0.4221,"v":-1.33,"s":"SCG-Z"},{"t":0.4271,"v":-1.18,"s":"SCG-Z"},{"t":0.4321,"v":-1.27,"s":"SCG-Z"},{"t":0.4371,"v":-1.21,"s":"SCG-Z"},{"t":0.4421,"v":-0.99,"s":"SCG-Z"},{"t":0.4471,"v":-1.27,"s":"SCG-Z"},{"t":0.4521,"v":-1.33,"s":"SCG-Z"},{"t":0.4571,"v":-1.24,"s":"SCG-Z"},{"t":0.4622,"v":-1.14,"s":"SCG-Z"},{"t":0.4672,"v":-1.4,"s":"SCG-Z"},{"t":0.4722,"v":-1.27,"s":"SCG-Z"},{"t":0.4772,"v":-1.24,"s":"SCG-Z"},{"t":0.4822,"v":-1.33,"s":"SCG-Z"},{"t":0.4882,"v":-0.92,"s":"SCG-Z"},{"t":0.4932,"v":-1.05,"s":"SCG-Z"},{"t":0.4982,"v":-0.86,"s":"SCG-Z"},{"t":0.5033,"v":-0.8,"s":"SCG-Z"},{"t":0.5083,"v":-1.08,"s":"SCG-Z"},{"t":0.5133,"v":-0.92,"s":"SCG-Z"},{"t":0.5183,"v":-1.18,"s":"SCG-Z"},{"t":0.5233,"v":-0.95,"s":"SCG-Z"},{"t":0.5283,"v":-0.8,"s":"SCG-Z"},{"t":0.5333,"v":-1.11,"s":"SCG-Z"},{"t":0.5383,"v":-1.18,"s":"SCG-Z"},{"t":0.5434,"v":-1.11,"s":"SCG-Z"},{"t":0.5484,"v":-1.05,"s":"SCG-Z"},{"t":0.5544,"v":-0.89,"s":"SCG-Z"},{"t":0.5594,"v":-1.02,"s":"SCG-Z"},{"t":0.5644,"v":-1.11,"s":"SCG-Z"},{"t":0.5694,"v":-1.18,"s":"SCG-Z"},{"t":0.5744,"v":-0.92,"s":"SCG-Z"},{"t":0.5794,"v":-0.99,"s":"SCG-Z"},{"t":0.5845,"v":-0.73,"s":"SCG-Z"},{"t":0.5895,"v":-0.8,"s":"SCG-Z"},{"t":0.5945,"v":-1.08,"s":"SCG-Z"},{"t":0.5995,"v":-0.99,"s":"SCG-Z"},{"t":0.6045,"v":-0.95,"s":"SCG-Z"},{"t":0.6095,"v":-0.61,"s":"SCG-Z"},{"t":0.6145,"v":-0.86,"s":"SCG-Z"},{"t":0.6185,"v":-1.02,"s":"SCG-Z"},{"t":0.6236,"v":-0.67,"s":"SCG-Z"},{"t":0.6286,"v":-0.8,"s":"SCG-Z"},{"t":0.6336,"v":-0.64,"s":"SCG-Z"},{"t":0.6386,"v":-0.58,"s":"SCG-Z"},{"t":0.64,"v":-0.54,"s":"SCG-Z"}
    ]
  },
  "hconcat": [
    {
      "width": 638, "height": 697,
      "resolve": {"axis": {"x": "independent", "y": "independent"}},
      "layer": [
        {"data": {"name": "scgx"}, "mark": {"type": "line", "clip": true},
         "encoding": {
           "x": {"field": "t", "type": "quantitative", "scale": {"domain": [-0.32, 0.64], "nice": false, "zero": false}, "axis": {"orient": "bottom", "values": [-0.2, 0, 0.2, 0.4, 0.6], "format": ".1~f", "title": "time (s)", "grid": true, "tickSize": -9, "labelPadding": 24, "titlePadding": 29}},
           "y": {"field": "v", "type": "quantitative", "scale": {"domain": [-3, 6], "nice": false, "zero": false}, "axis": {"orient": "left", "values": [-3, -2, -1, 0, 1, 2, 3, 4, 5, 6], "format": "d", "title": "Normalized Amplitude", "grid": true, "tickSize": -9, "labelPadding": 25, "titlePadding": 10}},
           "color": {"field": "s", "type": "nominal", "scale": {"domain": ["SCG-X", "ECG"], "range": ["#0072BD", "#D95319"]}, "legend": {"title": null}},
           "strokeWidth": {"field": "s", "type": "nominal", "scale": {"domain": ["SCG-X", "ECG"], "range": [1.3, 5]}, "legend": {"title": null}}
         }},
        {"data": {"name": "ecg"}, "mark": {"type": "line", "clip": true},
         "encoding": {
           "x": {"field": "t", "type": "quantitative", "axis": {"orient": "top", "values": [-0.2, 0, 0.2, 0.4, 0.6], "labels": false, "title": null, "grid": false, "tickSize": -9}},
           "y": {"field": "v", "type": "quantitative", "axis": {"orient": "right", "values": [-3, -2, -1, 0, 1, 2, 3, 4, 5, 6], "labels": false, "title": null, "grid": false, "tickSize": -9}},
           "color": {"field": "s", "type": "nominal", "legend": {"title": null}},
           "strokeWidth": {"field": "s", "type": "nominal", "legend": {"title": null}}
         }}
      ]
    },
    {
      "width": 638, "height": 697,
      "resolve": {"axis": {"x": "independent", "y": "independent"}},
      "layer": [
        {"data": {"name": "scgy"}, "mark": {"type": "line", "clip": true},
         "encoding": {
           "x": {"field": "t", "type": "quantitative", "scale": {"domain": [-0.32, 0.64], "nice": false, "zero": false}, "axis": {"orient": "bottom", "values": [-0.2, 0, 0.2, 0.4, 0.6], "format": ".1~f", "title": "time (s)", "grid": true, "tickSize": -9, "labelPadding": 24, "titlePadding": 29}},
           "y": {"field": "v", "type": "quantitative", "scale": {"domain": [-4, 6], "nice": false, "zero": false}, "axis": {"orient": "left", "values": [-4, -3, -2, -1, 0, 1, 2, 3, 4, 5, 6], "format": "d", "title": "Normalized Amplitude", "grid": true, "tickSize": -9, "labelPadding": 25, "titlePadding": 10}},
           "color": {"field": "s", "type": "nominal", "scale": {"domain": ["SCG-Y", "ECG"], "range": ["#0072BD", "#D95319"]}, "legend": {"title": null}},
           "strokeWidth": {"field": "s", "type": "nominal", "scale": {"domain": ["SCG-Y", "ECG"], "range": [1.3, 5]}, "legend": {"title": null}}
         }},
        {"data": {"name": "ecg"}, "mark": {"type": "line", "clip": true},
         "encoding": {
           "x": {"field": "t", "type": "quantitative", "axis": {"orient": "top", "values": [-0.2, 0, 0.2, 0.4, 0.6], "labels": false, "title": null, "grid": false, "tickSize": -9}},
           "y": {"field": "v", "type": "quantitative", "axis": {"orient": "right", "values": [-4, -3, -2, -1, 0, 1, 2, 3, 4, 5, 6], "labels": false, "title": null, "grid": false, "tickSize": -9}},
           "color": {"field": "s", "type": "nominal", "legend": {"title": null}},
           "strokeWidth": {"field": "s", "type": "nominal", "legend": {"title": null}}
         }}
      ]
    },
    {
      "width": 638, "height": 697,
      "resolve": {"axis": {"x": "independent", "y": "independent"}},
      "layer": [
        {"data": {"name": "scgz"}, "mark": {"type": "line", "clip": true},
         "encoding": {
           "x": {"field": "t", "type": "quantitative", "scale": {"domain": [-0.32, 0.64], "nice": false, "zero": false}, "axis": {"orient": "bottom", "values": [-0.2, 0, 0.2, 0.4, 0.6], "format": ".1~f", "title": "time (s)", "grid": true, "tickSize": -9, "labelPadding": 24, "titlePadding": 29}},
           "y": {"field": "v", "type": "quantitative", "scale": {"domain": [-4, 6], "nice": false, "zero": false}, "axis": {"orient": "left", "values": [-4, -3, -2, -1, 0, 1, 2, 3, 4, 5, 6], "format": "d", "title": "Normalized Amplitude", "grid": true, "tickSize": -9, "labelPadding": 25, "titlePadding": 10}},
           "color": {"field": "s", "type": "nominal", "scale": {"domain": ["SCG-Z", "ECG"], "range": ["#0072BD", "#D95319"]}, "legend": {"title": null}},
           "strokeWidth": {"field": "s", "type": "nominal", "scale": {"domain": ["SCG-Z", "ECG"], "range": [1.3, 5]}, "legend": {"title": null}}
         }},
        {"data": {"name": "ecg"}, "mark": {"type": "line", "clip": true},
         "encoding": {
           "x": {"field": "t", "type": "quantitative", "axis": {"orient": "top", "values": [-0.2, 0, 0.2, 0.4, 0.6], "labels": false, "title": null, "grid": false, "tickSize": -9}},
           "y": {"field": "v", "type": "quantitative", "axis": {"orient": "right", "values": [-4, -3, -2, -1, 0, 1, 2, 3, 4, 5, 6], "labels": false, "title": null, "grid": false, "tickSize": -9}},
           "color": {"field": "s", "type": "nominal", "legend": {"title": null}},
           "strokeWidth": {"field": "s", "type": "nominal", "legend": {"title": null}}
         }}
      ]
    }
  ]
}
